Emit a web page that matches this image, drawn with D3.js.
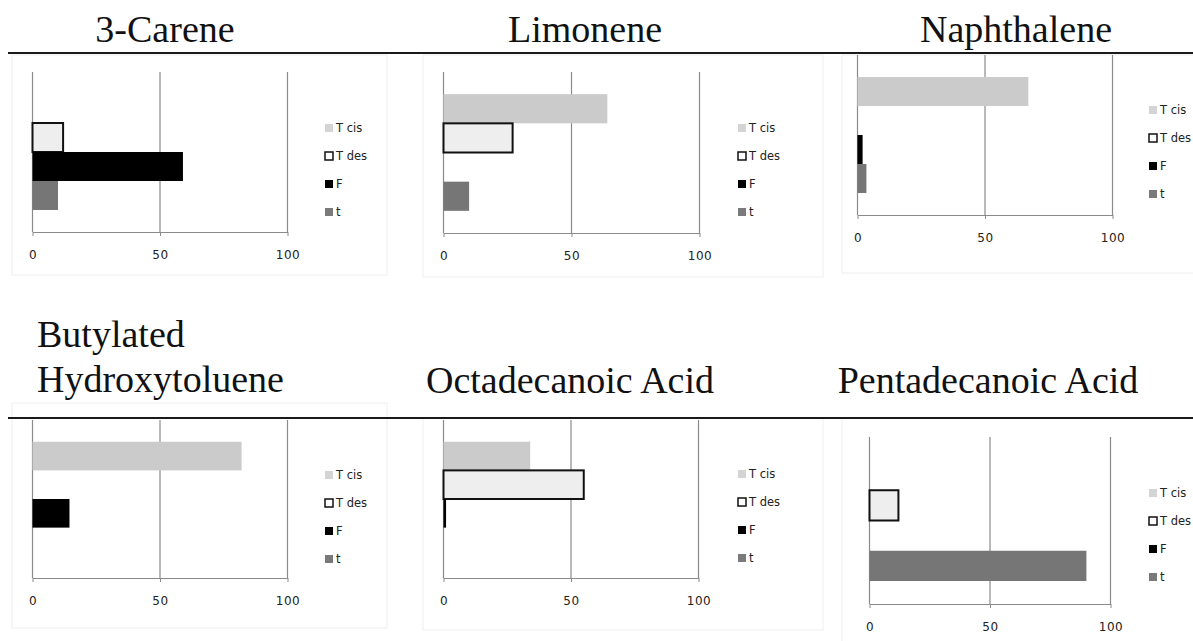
<!DOCTYPE html>
<html>
<head>
<meta charset="utf-8">
<script src="https://cdn.jsdelivr.net/npm/d3@7"></script>
<style>
  body { margin: 0; background: #fff; }
  svg { display: block; }
</style>
</head>
<body>
<svg width="1193" height="641"></svg>
<script>
// data (percent)
const compounds = ["3-Carene", "Limonene", "Naphthalene",
                   "Butylated Hydroxytoluene", "Octadecanoic Acid", "Pentadecanoic Acid"];
const seriesNames = ["T cis", "T des", "F", "t"];
const tCis = [0, 64, 67, 82, 34, 0];
const tDes = [12, 27, 0, 0, 55, 12];
const fVals = [59, 0, 2, 14.5, 1, 0];
const tVals = [10, 10, 3.5, 0, 0, 90];
const tickValues = [0, 50, 100];

const seriesData = [tCis, tDes, fVals, tVals];

// panel placement (pixels)
const panels = [
  { x0: 32,  x1: 287,  top: 72,  bottom: 232, legX: 325,  legY: 128, frame: [12, 55, 375, 220],
    title: [{ t: "3-Carene", x: 165, y: 42 }], anchor: "middle" },
  { x0: 443, x1: 699,  top: 72,  bottom: 233, legX: 738,  legY: 128, frame: [423, 55, 400, 222],
    title: [{ t: "Limonene", x: 585, y: 42 }], anchor: "middle" },
  { x0: 857, x1: 1112, top: 55,  bottom: 215, legX: 1149, legY: 110, frame: [842, 55, 400, 218],
    title: [{ t: "Naphthalene", x: 1016, y: 42 }], anchor: "middle" },
  { x0: 32,  x1: 287,  top: 420, bottom: 578, legX: 325,  legY: 475, frame: [12, 403, 375, 225],
    title: [{ t: "Butylated", x: 37, y: 347 }, { t: "Hydroxytoluene", x: 37, y: 392 }], anchor: "start" },
  { x0: 443, x1: 698,  top: 420, bottom: 578, legX: 738,  legY: 474, frame: [423, 418, 400, 212],
    title: [{ t: "Octadecanoic Acid", x: 570, y: 393 }], anchor: "middle" },
  { x0: 869, x1: 1110, top: 437, bottom: 604, legX: 1149, legY: 493, frame: [842, 418, 400, 240],
    title: [{ t: "Pentadecanoic Acid", x: 988, y: 393 }], anchor: "middle" }
];

const fills = { "T cis": "#cbcbcb", "T des": "#eeeeee", "F": "#000000", "t": "#767676" };
const legendFills = { "T cis": "#d4d4d4", "T des": "#ffffff", "F": "#000000", "t": "#7a7a7a" };

const svg = d3.select("svg");

// faint chart-area frames
panels.forEach(p => {
  svg.append("rect")
    .attr("x", p.frame[0]).attr("y", p.frame[1])
    .attr("width", p.frame[2]).attr("height", p.frame[3])
    .attr("fill", "none")
    .attr("stroke", "#efefef")
    .attr("stroke-width", 1);
});

// black rules under the titles
[53, 418].forEach(y => {
  svg.append("line")
    .attr("x1", 8).attr("x2", 1193)
    .attr("y1", y).attr("y2", y)
    .attr("stroke", "#1a1a1a")
    .attr("stroke-width", 2);
});

panels.forEach((p, i) => {
  const g = svg.append("g");

  const x = d3.scaleLinear().domain([0, 100]).range([p.x0, p.x1]);
  const y = d3.scaleBand().domain(seriesNames).range([p.top, p.bottom])
    .paddingInner(0).paddingOuter(0.76);

  // gridlines
  g.append("g").selectAll("line")
    .data(tickValues)
    .enter().append("line")
    .attr("x1", d => x(d) + 0.5).attr("x2", d => x(d) + 0.5)
    .attr("y1", p.top).attr("y2", p.bottom)
    .attr("stroke", "#8a8a8a")
    .attr("stroke-width", 1.2);

  // bars
  const rows = seriesNames.map((s, k) => ({ s: s, v: seriesData[k][i] })).filter(d => d.v > 0);
  g.append("g").selectAll("rect")
    .data(rows)
    .enter().append("rect")
    .attr("x", x(0) + 0.5)
    .attr("y", d => y(d.s))
    .attr("width", d => x(d.v) - x(0))
    .attr("height", y.bandwidth())
    .attr("fill", d => fills[d.s])
    .attr("stroke", d => d.s === "T des" ? "#111" : "none")
    .attr("stroke-width", 2);

  // x axis
  const axis = g.append("g")
    .attr("transform", `translate(0.5,${p.bottom})`)
    .call(d3.axisBottom(x).tickValues(tickValues).tickSizeInner(4).tickSizeOuter(0).tickPadding(14));
  axis.select(".domain").attr("stroke", "#8a8a8a").attr("stroke-width", 1.2);
  axis.selectAll(".tick line").attr("stroke", "#8a8a8a");
  axis.selectAll("text")
    .attr("font-family", "DejaVu Sans")
    .attr("font-size", 12)
    .attr("letter-spacing", 0.5)
    .attr("fill", "#222");

  // legend
  const leg = g.append("g").selectAll("g")
    .data(seriesNames)
    .enter().append("g")
    .attr("transform", (d, k) => `translate(${p.legX},${p.legY + k * 28})`);
  leg.append("rect")
    .attr("x", 0).attr("y", -4)
    .attr("width", 8).attr("height", 8)
    .attr("fill", d => legendFills[d])
    .attr("stroke", d => d === "T des" ? "#111" : "none")
    .attr("stroke-width", 1.5);
  leg.append("text")
    .attr("x", 11).attr("y", 0)
    .attr("dy", "0.35em")
    .attr("font-family", "DejaVu Sans")
    .attr("font-size", 11.5)
    .attr("fill", "#222")
    .text(d => d);

  // title
  p.title.forEach(t => {
    svg.append("text")
      .attr("x", t.x).attr("y", t.y)
      .attr("text-anchor", p.anchor)
      .attr("font-family", "Liberation Serif")
      .attr("font-size", 38)
      .attr("fill", "#111")
      .text(t.t);
  });
});
</script>
</body>
</html>
